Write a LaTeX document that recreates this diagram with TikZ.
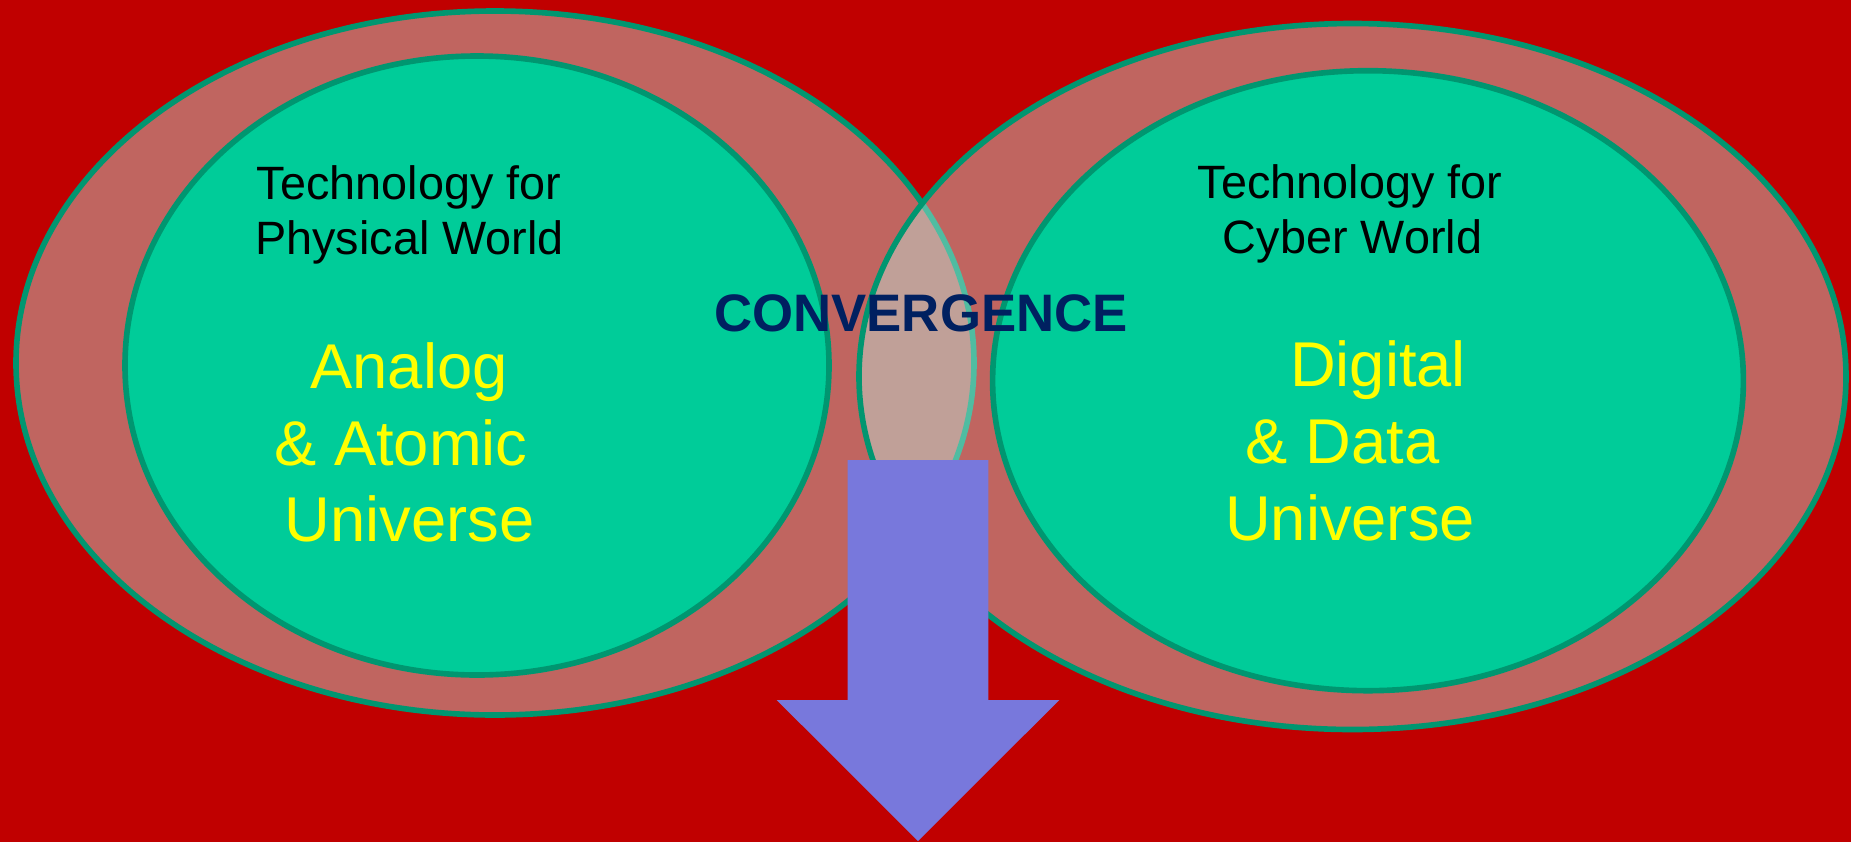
\documentclass[tikz,border=0pt]{standalone}
\usepackage{fontspec}
\setmainfont{Liberation Sans}
\definecolor{bgred}{RGB}{192,0,0}
\definecolor{ringfill}{RGB}{192,242,230}
\definecolor{lobefill}{RGB}{0,204,153}
\definecolor{lobeline}{RGB}{0,150,112}
\definecolor{arrowblue}{RGB}{120,120,220}
\definecolor{navytext}{RGB}{0,32,96}
\definecolor{goldtext}{RGB}{255,255,0}
\tikzset{
  outerring/.style={draw=lobeline, line width=1.6pt, fill=ringfill, fill opacity=0.42},
  innerring/.style={draw=lobeline, line width=1.6pt, fill=lobefill},
  techlabel/.style={anchor=base, inner sep=0pt, font=\fontsize{13.3}{16}\selectfont},
  unilabel/.style={anchor=base, inner sep=0pt, text=goldtext, font=\fontsize{18}{21.6}\selectfont},
}

\begin{document}
\begin{tikzpicture}[x=0.01cm, y=-0.01cm]
		%%%%% START %%%%%
		
		\fill[bgred] (0, 0) rectangle (1851, 842);
		\useasboundingbox (0, 0) rectangle (1851, 842);
		
		\draw[outerring] (495, 363) ellipse [x radius=479, y radius=352];
		\draw[outerring] (1352.5, 376.5) ellipse [x radius=493.5, y radius=353];
		
		\draw[innerring] (477, 365.5) ellipse [x radius=352, y radius=309.5];
		\draw[innerring] (1368, 380.7) ellipse [x radius=375.4, y radius=310];
		
		\fill[arrowblue] (847.7, 460) -- (988.3, 460) -- (988.3, 700) -- (1059.3, 700)
			-- (918, 841) -- (776.7, 700) -- (847.7, 700) -- cycle;
		
		\node[techlabel] (physA) at (409, 199) {Technology for};
		\node[techlabel] (physB) at (409.5, 254) {Physical World};
		\node[techlabel] (cyberA) at (1350, 198.5) {Technology for};
		\node[techlabel] (cyberB) at (1352.5, 253.5) {Cyber World};
		
		\node[unilabel] (analog) at (409, 388) {Analog};
		\node[unilabel] (atomic) at (401, 465) {\& Atomic};
		\node[unilabel] (uniL) at (409.5, 541.7) {Universe};
		
		\node[unilabel] (digital) at (1378, 386.7) {Digital};
		\node[unilabel] (data) at (1342.5, 463) {\& Data};
		\node[unilabel] (uniR) at (1350, 540) {Universe};
		
		\node[anchor=base, inner sep=0pt, text=navytext, font=\bfseries\fontsize{15}{18}\selectfont] (conv) at (921, 331.7) {CONVERGENCE};
		
		%%%%% END %%%%%
\end{tikzpicture}
\end{document}
